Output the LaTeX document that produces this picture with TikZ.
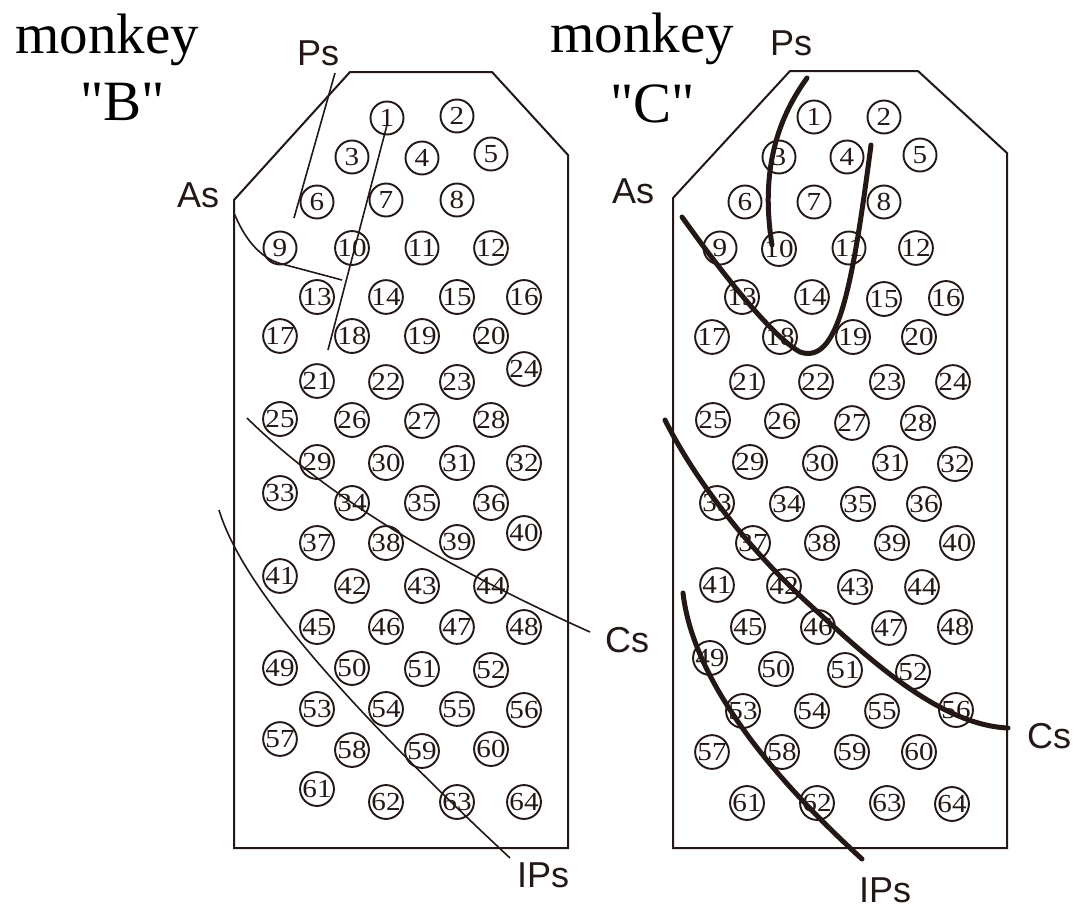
\documentclass[tikz,border=0pt]{standalone}
\usepackage{fontspec}
\setmainfont{Liberation Serif}
\newfontfamily\labfont{Liberation Sans}
\newfontfamily\numfont{Liberation Serif}[FakeStretch=1.12]
\definecolor{ink}{RGB}{35,24,21}
\begin{document}
\begin{tikzpicture}[x=1pt,y=-1pt,
  elec/.style={circle,draw=ink,line width=1.9pt,minimum size=33pt,inner sep=0pt,text=ink,font=\numfont\fontsize{26}{26}\selectfont},
  panel/.style={draw=ink,line width=2pt,line join=miter},
  thinsulcus/.style={draw=ink,line width=1.6pt},
  thicksulcus/.style={draw=ink,line width=5pt,line cap=round},
  sulclabel/.style={font=\labfont\fontsize{36}{36}\selectfont,text=ink,inner sep=0pt,anchor=base west},
  titlelabel/.style={font=\fontsize{57}{57}\selectfont,text=black,inner sep=0pt,anchor=base west}]
\useasboundingbox (0,0) rectangle (1085,908);
\fill[white] (0,0) rectangle (1085,908);

% titles
\node[titlelabel] (tB1) at (15,53) {monkey};
\node[titlelabel] (tB2) at (80,120) {\textquotedbl B\textquotedbl};
\node[titlelabel] (tC1) at (550,52) {monkey};
\node[titlelabel] (tC2) at (610,122) {\textquotedbl C\textquotedbl};

% panels
\draw[panel] (234,200) -- (350,72) -- (492,72) -- (568,155) -- (568,848) -- (234,848) -- cycle;
\draw[panel] (673,198) -- (790,71) -- (918,71) -- (1007,153) -- (1007,848) -- (673,848) -- cycle;

% electrodes, monkey B
\foreach \n/\x/\y in {1/387/118, 2/457/116, 3/352/157, 4/422/158, 5/491/154, 6/317/202, 7/386/200, 8/457/200,
  9/280/248, 10/352/248, 11/422/248, 12/491/248, 13/317/297, 14/386/297, 15/457/297, 16/524/297,
  17/280/336, 18/352/336, 19/422/336, 20/491/336, 21/317/381, 22/386/382, 23/457/382, 24/524/369,
  25/280/419, 26/352/420, 27/422/421, 28/491/420, 29/317/462, 30/386/463, 31/457/463, 32/524/463,
  33/280/493, 34/352/503, 35/422/503, 36/491/503, 37/317/543, 38/386/543, 39/457/542, 40/524/533,
  41/280/576, 42/352/586, 43/422/586, 44/491/586, 45/317/627, 46/386/627, 47/457/627, 48/524/627,
  49/280/668, 50/352/668, 51/422/669, 52/491/670, 53/317/709, 54/386/709, 55/457/709, 56/524/710,
  57/280/739, 58/352/750, 59/422/751, 60/491/749, 61/317/789, 62/386/802, 63/457/802, 64/524/802}
  \node[elec] (b\n) at (\x,\y) {\n};

% electrodes, monkey C
\foreach \n/\x/\y in {1/814/117, 2/884/117, 3/779/157, 4/847/157, 5/920/155, 6/745/202, 7/814/202, 8/884/202,
  9/720/248, 10/779/249, 11/849/248, 12/916/248, 13/742/297, 14/812/297, 15/884/299, 16/946/298,
  17/712/337, 18/780/337, 19/853/337, 20/919/337, 21/747/382, 22/816/382, 23/887/382, 24/953/382,
  25/713/420, 26/782/421, 27/852/423, 28/918/423, 29/750/462, 30/820/463, 31/890/463, 32/955/464,
  33/717/503, 34/787/504, 35/858/504, 36/924/504, 37/753/543, 38/822/543, 39/892/543, 40/957/543,
  41/717/585, 42/784/586, 43/855/587, 44/922/587, 45/748/627, 46/818/627, 47/889/628, 48/955/627,
  49/710/658, 50/776/669, 51/845/670, 52/913/672, 53/743/711, 54/812/711, 55/882/711, 56/956/710,
  57/712/752, 58/782/752, 59/852/752, 60/919/752, 61/747/803, 62/817/803, 63/887/803, 64/952/804}
  \node[elec] (c\n) at (\x,\y) {\n};

% sulcus labels
\node[sulclabel] (bPs) at (297,65) {Ps};
\node[sulclabel] (bAs) at (177,207) {As};
\node[sulclabel] (bCs) at (605,652) {Cs};
\node[sulclabel] (bIPs) at (517,887) {IPs};
\node[sulclabel] (cPs) at (770,55) {Ps};
\node[sulclabel] (cAs) at (612,203) {As};
\node[sulclabel] (cCs) at (1027,748) {Cs};
\node[sulclabel] (cIPs) at (859,902) {IPs};

% sulci, monkey B
\draw[thinsulcus] (335,73) -- (294,218);
\draw[thinsulcus] (387,125) -- (328,350);
\draw[thinsulcus] (234,213) .. controls (243,235) and (258,258) .. (282,264) -- (342,280);
\draw[thinsulcus] (247,418) .. controls (320,490) and (430,560) .. (590,632);
\draw[thinsulcus] (219,510) .. controls (240,580) and (330,690) .. (510,858);

% sulci, monkey C
\draw[thicksulcus] (807,78) .. controls (778,118) and (760,170) .. (772,245);
\draw[thicksulcus] (682,217) .. controls (720,270) and (770,335) .. (800,352)
  .. controls (838,365) and (852,290) .. (871,145);
\draw[thicksulcus] (665,420) .. controls (700,490) and (760,560) .. (810,605)
  .. controls (870,660) and (940,725) .. (1008,728);
\draw[thicksulcus] (683,593) .. controls (693,680) and (770,775) .. (862,859);
\end{tikzpicture}
\end{document}
